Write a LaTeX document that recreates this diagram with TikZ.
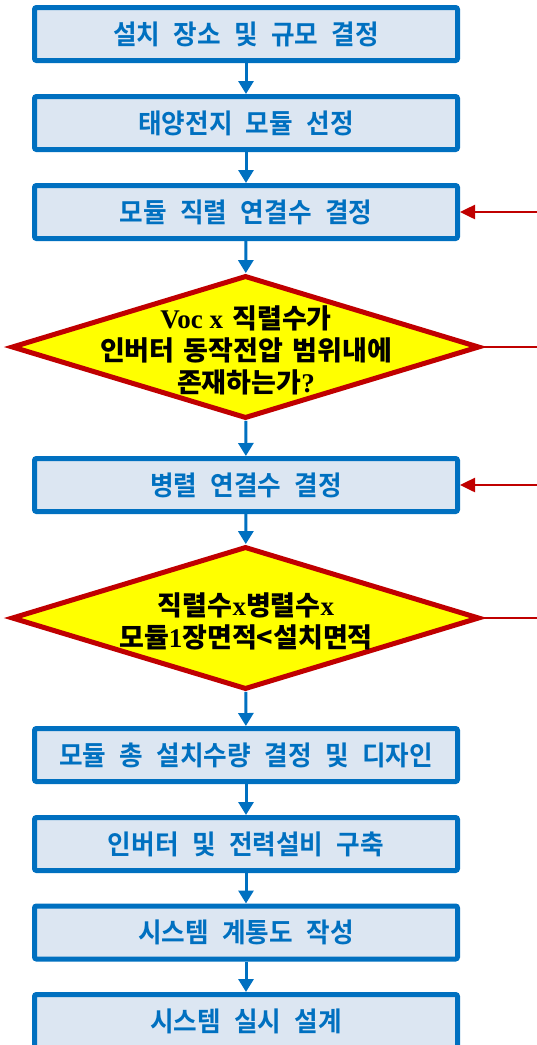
\documentclass[tikz,border=0pt]{standalone}
\usepackage{fontspec}
\usetikzlibrary{arrows.meta,shapes.geometric}
\newfontfamily\kr{Noto Sans CJK KR Bold}[WordSpace=2.3,FakeStretch=0.95]
\newfontfamily\krd{Noto Sans CJK KR Black}[WordSpace=1.5]
\newfontfamily\tnr{Liberation Serif}
\definecolor{bblue}{HTML}{0070C0}
\definecolor{bfill}{HTML}{DCE6F2}
\definecolor{dred}{HTML}{C00000}
\definecolor{dyel}{HTML}{FFFF00}
\newcommand{\lt}[1]{{\tnr\bfseries #1}}
\begin{document}
\begin{tikzpicture}[x=1pt,y=-1pt,
  stepbox/.style={draw=bblue, line width=5pt, fill=bfill, rounded corners=2pt,
    minimum width=423pt, minimum height=53pt, inner sep=0pt, text=bblue,
    font=\kr\fontsize{27}{30}\selectfont},
  dia/.style={diamond, draw=dred, line width=5pt, fill=dyel, minimum width=468pt,
    minimum height=143pt, inner sep=0pt},
  dtext/.style={align=center, text=black, font=\krd\fontsize{27}{32}\selectfont},
  flow/.style={draw=bblue, line width=3pt, -{Triangle[width=15pt,length=13pt]}},
  back/.style={draw=dred, line width=2.5pt},
  backarrow/.style={draw=dred, line width=2.5pt, -{Triangle[width=14pt,length=15pt]}}
]
\useasboundingbox (0,0) rectangle (537,1045);
\node[stepbox] (b1) at (246,34) {설치 장소 및 규모 결정};
\node[stepbox] (b2) at (246,123) {태양전지 모듈 선정};
\node[stepbox] (b3) at (246,212) {모듈 직렬 연결수 결정};
\node[dia] (d1) at (245.5,347) {};
\node[dtext] (t1) at (246,350) {\lt{Voc x} 직렬수가\\인버터 동작전압 범위내에\\존재하는가\lt{?}};
\node[stepbox] (b4) at (246,485) {병렬 연결수 결정};
\node[dia] (d2) at (245.5,618) {};
\node[dtext] (t2) at (246,621) {직렬수\lt{x}병렬수\lt{x}\\모듈\lt{1}장면적<설치면적};
\node[stepbox] (b5) at (246,755) {모듈 총 설치수량 결정 및 디자인};
\node[stepbox] (b6) at (246,844) {인버터 및 전력설비 구축};
\node[stepbox] (b7) at (246,932.5) {시스템 계통도 작성};
\node[stepbox] (b8) at (246,1021) {시스템 실시 설계};
\draw[flow] (b1) -- (b2);
\draw[flow] (b2) -- (b3);
\draw[flow] (b3) -- (d1);
\draw[flow] (d1) -- (b4);
\draw[flow] (b4) -- (d2);
\draw[flow] (d2) -- (b5);
\draw[flow] (b5) -- (b6);
\draw[flow] (b6) -- (b7);
\draw[flow] (b7) -- (b8);
\coordinate (r3) at (537,212);
\coordinate (r4) at (537,485);
\coordinate (rd1) at (537,347);
\coordinate (rd2) at (537,618);
\draw[backarrow] (r3) -- (b3.east);
\draw[backarrow] (r4) -- (b4.east);
\draw[back] (d1.east) -- (rd1);
\draw[back] (d2.east) -- (rd2);
\end{tikzpicture}
\end{document}
